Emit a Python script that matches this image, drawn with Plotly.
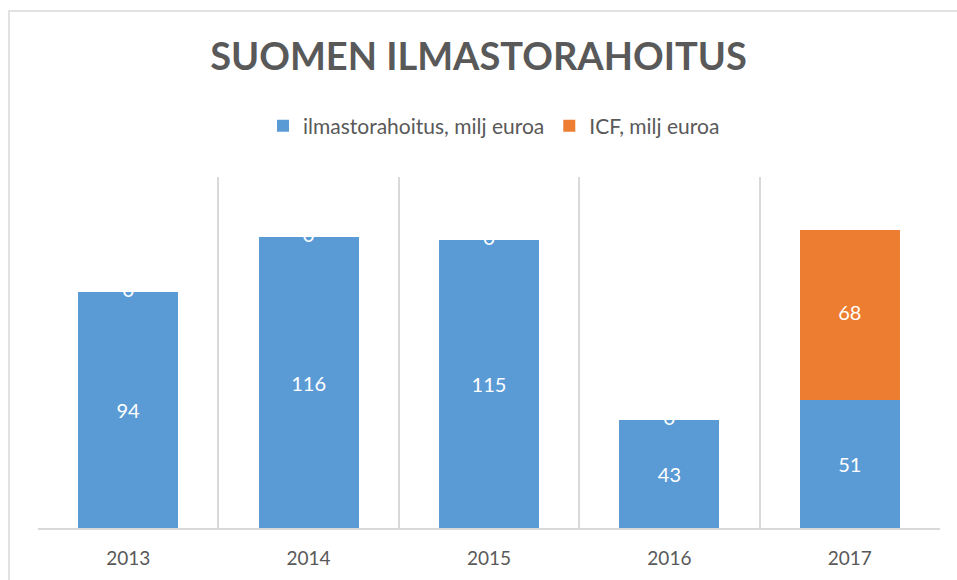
import plotly.graph_objects as go

years = ["2013", "2014", "2015", "2016", "2017"]
ilmasto = [94, 116, 115, 43, 51]
icf = [0, 0, 0, 0, 68]
series_names = ["ilmastorahoitus, milj euroa", "ICF, milj euroa"]
title_text = "SUOMEN ILMASTORAHOITUS"

BLUE = "#5B9BD5"
ORANGE = "#ED7D31"
GRAY = "#595959"
GRID = "#D9D9D9"
FONT = "Lato, Open Sans, sans-serif"

W, H = 957, 580
L, R, T, B = 38, 17, 177, 52
plot_w = W - L - R
plot_h = H - T - B

fig = go.Figure()
fig.add_trace(go.Bar(
    x=years, y=ilmasto, name=series_names[0], marker_color=BLUE,
    marker_line_width=0,
    text=[str(v) for v in ilmasto], textposition="inside",
    insidetextanchor="middle", constraintext="none",
    textfont=dict(color="white", size=20, family=FONT),
    hoverinfo="skip",
))
fig.add_trace(go.Bar(
    x=years, y=icf, name=series_names[1], marker_color=ORANGE,
    marker_line_width=0, hoverinfo="skip",
))
# labels for the second (stacked) series, centred on each segment
fig.add_trace(go.Scatter(
    x=years, y=[a + b / 2 for a, b in zip(ilmasto, icf)],
    mode="text", text=[str(v) for v in icf], textposition="middle center",
    textfont=dict(color="white", size=20, family=FONT),
    showlegend=False, hoverinfo="skip",
))

fig.update_layout(
    barmode="stack",
    bargap=0.445,
    width=W, height=H,
    margin=dict(l=L, r=R, t=T, b=B),
    paper_bgcolor="white", plot_bgcolor="white",
    font=dict(family=FONT, color=GRAY),
    title=dict(text="<b>" + title_text + "</b>", x=0.5, xanchor="center",
               y=1 - 57 / H, yanchor="middle",
               font=dict(size=38, color=GRAY, family=FONT)),
    legend=dict(orientation="h", x=(494 - L) / plot_w, xanchor="center",
                y=1 + (T - 126) / plot_h, yanchor="middle",
                font=dict(size=21, color=GRAY, family=FONT),
                itemwidth=30, traceorder="normal", itemclick=False),
    showlegend=True,
)
fig.update_xaxes(
    type="category", tickson="boundaries", showgrid=True, gridcolor=GRID,
    gridwidth=1.5, ticks="", showline=True, linecolor=GRID, linewidth=2,
    tickfont=dict(size=19, color=GRAY, family=FONT), ticklabelstandoff=12,
)
fig.update_yaxes(range=[0, 140], visible=False, showgrid=False, zeroline=False)

fig.add_shape(type="rect", xref="paper", yref="paper",
              x0=(9 - L) / plot_w, x1=(965 - L) / plot_w,
              y0=-(590 - (H - B)) / plot_h, y1=1 + (T - 11) / plot_h,
              line=dict(color=GRID, width=1.5), fillcolor="rgba(0,0,0,0)",
              layer="below")

fig.write_html("out.html")
